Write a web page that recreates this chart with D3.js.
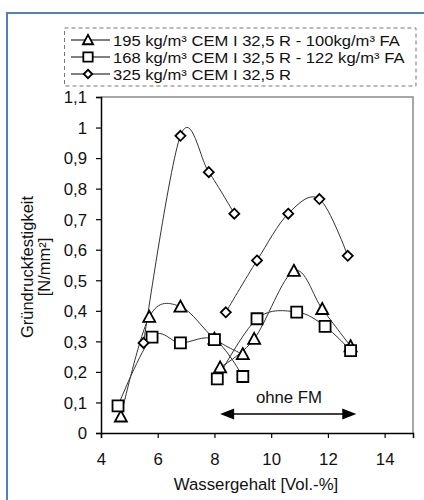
<!DOCTYPE html>
<html><head><meta charset="utf-8">
<script src="https://cdn.jsdelivr.net/npm/d3@7"></script>
<style>body{margin:0;background:#fff}svg{display:block;font-family:"Liberation Sans",Arial,sans-serif}</style>
</head><body><svg id="c" width="424" height="500"></svg>
<script>
// Data
const legendLabels = ["195 kg/m³ CEM I 32,5 R - 100kg/m³ FA","168 kg/m³ CEM I 32,5 R - 122 kg/m³ FA","325 kg/m³ CEM I 32,5 R"];
const markerTypes = ["triangle","square","diamond"];
// 195 kg/m³ CEM + FA (triangles)
const triWaterMit = [4.7, 5.7, 6.8, 8.0, 9.0];
const triStrengthMit = [0.054, 0.38, 0.414, 0.309, 0.258];
const triWaterOhne = [8.2, 9.4, 10.8, 11.8, 12.8];
const triStrengthOhne = [0.215, 0.308, 0.531, 0.406, 0.284];
// 168 kg/m³ CEM + FA (squares)
const sqWaterMit = [4.6, 5.8, 6.8, 8.0, 9.0];
const sqStrengthMit = [0.089, 0.314, 0.295, 0.306, 0.185];
const sqWaterOhne = [8.1, 9.5, 10.9, 11.9, 12.8];
const sqStrengthOhne = [0.177, 0.374, 0.396, 0.349, 0.270];
// 325 kg/m³ CEM (diamonds)
const diaWaterMit = [5.5, 6.8, 7.8, 8.7];
const diaStrengthMit = [0.295, 0.973, 0.854, 0.718];
const diaWaterOhne = [8.4, 9.5, 10.6, 11.7, 12.7];
const diaStrengthOhne = [0.395, 0.565, 0.718, 0.766, 0.580];
const xTicks = [4, 6, 8, 10, 12, 14];
const yTicks = [0, 0.1, 0.2, 0.3, 0.4, 0.5, 0.6, 0.7, 0.8, 0.9, 1, 1.1];
const arrowRange = [8.2, 13.0];
const arrowLevel = 0.062;
const annotation = "ohne FM";

const svg = d3.select("#c");
const L = 101, R = 413, T = 97, B = 433;
const x = d3.scaleLinear().domain([4, 15]).range([L, R]);
const y = d3.scaleLinear().domain([0, 1.1]).range([B, T]);
const FS = 16.8;

// outer blue frame
svg.append("rect").attr("x", 7).attr("y", 13).attr("width", 440).attr("height", 500)
  .attr("fill", "none").attr("stroke", "#4f81bd").attr("stroke-width", 2);

// plot border (top/right)
svg.append("path").attr("d", `M${L},${T}H${R}V${B}`).attr("fill", "none").attr("stroke", "#8a8a8a").attr("stroke-width", 1.5);

const fmt = d => d3.format(".1f")(d).replace(".", ",").replace(/,0$/, "");
const ya = svg.append("g").attr("transform", `translate(${L},0)`)
  .call(d3.axisLeft(y).tickValues(yTicks).tickSize(5).tickFormat(fmt));
const xa = svg.append("g").attr("transform", `translate(0,${B})`)
  .call(d3.axisBottom(x).tickValues(xTicks).tickSize(5).tickFormat(d3.format("d")));
[ya, xa].forEach(a => {
  a.selectAll("path").attr("stroke", "#000").attr("stroke-width", 1.5);
  a.selectAll("line").attr("stroke", "#000").attr("stroke-width", 1.2);
  a.selectAll("text").attr("font-size", FS).attr("fill", "#111").attr("font-family", "Liberation Sans, Arial, sans-serif");
});
ya.selectAll("text").attr("x", -14).attr("dy", "0.35em");
xa.selectAll("text").attr("y", 32).attr("dy", 0);

// axis titles
svg.append("text").attr("x", 256).attr("y", 490).attr("text-anchor", "middle")
  .attr("font-size", FS).attr("fill", "#111").text("Wassergehalt [Vol.-%]");
const yt = svg.append("text").attr("transform", "translate(33,267) rotate(-90)").attr("text-anchor", "middle")
  .attr("font-size", 16.5).attr("fill", "#111");
yt.append("tspan").attr("x", 0).attr("y", 0).text("Gründruckfestigkeit");
yt.append("tspan").attr("x", 0).attr("y", 17).text("[N/mm²]");

// markers
function marker(g, type, cx, cy, s = 1) {
  let p;
  if (type === "triangle") p = `M${cx},${cy-6*s}L${cx+6*s},${cy+5*s}L${cx-6*s},${cy+5*s}Z`;
  else if (type === "square") p = `M${cx-5.5*s},${cy-5.5*s}h${11*s}v${11*s}h${-11*s}Z`;
  else p = `M${cx},${cy-5*s}L${cx+5*s},${cy}L${cx},${cy+5*s}L${cx-5*s},${cy}Z`;
  g.append("path").attr("d", p).attr("fill", "#fff").attr("stroke", "#000").attr("stroke-width", 1.8);
}

const line = d3.line().x(d => x(d[0])).y(d => y(d[1])).curve(d3.curveCardinal.tension(0));
const series = [
  {type: "triangle", segs: [[triWaterMit, triStrengthMit], [triWaterOhne, triStrengthOhne]]},
  {type: "square", segs: [[sqWaterMit, sqStrengthMit], [sqWaterOhne, sqStrengthOhne]]},
  {type: "diamond", segs: [[diaWaterMit, diaStrengthMit], [diaWaterOhne, diaStrengthOhne]]}
];
const gl = svg.append("g"), gm = svg.append("g");
series.forEach(s => s.segs.forEach(([xs, ys]) => {
  const pts = xs.map((v, i) => [v, ys[i]]);
  gl.append("path").attr("d", line(pts)).attr("fill", "none").attr("stroke", "#333").attr("stroke-width", 1);
  pts.forEach(p => marker(gm, s.type, x(p[0]), y(p[1])));
}));

// arrow + annotation
const ay = y(arrowLevel), ax0 = x(arrowRange[0]), ax1 = x(arrowRange[1]);
svg.append("line").attr("x1", ax0 + 10).attr("x2", ax1 - 10).attr("y1", ay).attr("y2", ay).attr("stroke", "#000").attr("stroke-width", 1.5);
svg.append("path").attr("d", `M${ax0},${ay}L${ax0+14},${ay-5.5}L${ax0+14},${ay+5.5}Z`).attr("fill", "#000");
svg.append("path").attr("d", `M${ax1},${ay}L${ax1-14},${ay-5.5}L${ax1-14},${ay+5.5}Z`).attr("fill", "#000");
svg.append("text").attr("x", 289).attr("y", 402.5)
  .attr("text-anchor", "middle").attr("font-size", FS).attr("fill", "#111").text(annotation);

// legend
const lg = svg.append("g");
lg.append("rect").attr("x", 64.5).attr("y", 28).attr("width", 351.5).attr("height", 58)
  .attr("fill", "#fff").attr("stroke", "#777").attr("stroke-width", 1).attr("stroke-dasharray", "4,3");
legendLabels.forEach((lab, i) => {
  const cy = 40 + i * 17;
  lg.append("line").attr("x1", 71).attr("x2", 110).attr("y1", cy).attr("y2", cy).attr("stroke", "#000").attr("stroke-width", 1);
  marker(lg, markerTypes[i], 88, cy, 0.85);
  lg.append("text").attr("transform", `translate(113,${cy + 5.5}) scale(1.13,1)`)
    .attr("font-size", 14.7).attr("fill", "#111").text(lab);
});
</script></body></html>
